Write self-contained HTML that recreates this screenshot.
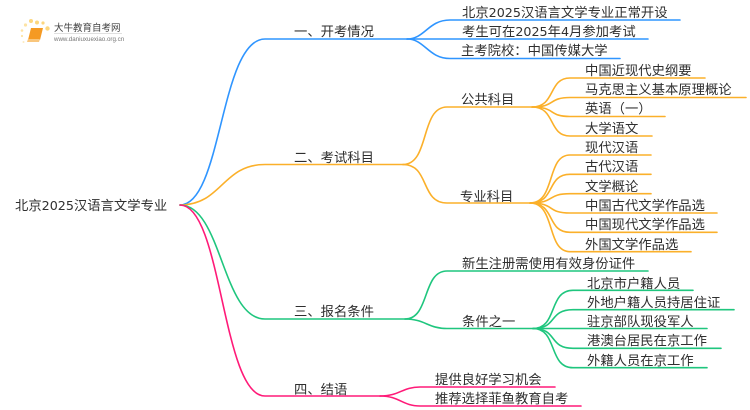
<!DOCTYPE html>
<html><head><meta charset="utf-8"><style>
html,body{margin:0;padding:0;background:#fff}
svg{display:block;filter:blur(.25px)}
text{font-family:"DejaVu Sans","Noto Sans CJK SC",sans-serif;font-size:13.33px;fill:#2f2f2f}
tspan{font-size:12.7px}
path{fill:none;stroke-width:1.6;stroke-linecap:round}
.b path{stroke:#2f95ff}.o path{stroke:#fbb02a}.g path{stroke:#1fc67e}.p path{stroke:#ff1a78}
</style></head><body>
<svg width="750" height="410" viewBox="0 0 750 410" xmlns="http://www.w3.org/2000/svg">
<!-- logo -->
<g>
<circle cx="31" cy="21" r="2" fill="#fcd77f"/><circle cx="37" cy="22.5" r="2" fill="#fcd77f"/><circle cx="25.5" cy="25" r="1.6" fill="#fde3a5"/><circle cx="47.5" cy="28.5" r="2.2" fill="#fcd77f"/><circle cx="43" cy="23" r="1.6" fill="#fcd77f"/><circle cx="22" cy="30.5" r="1.3" fill="#fde3a5"/><circle cx="22" cy="36" r="1.1" fill="#fde3a5"/><circle cx="23.5" cy="42" r="1" fill="#fdeac0"/>
<polygon points="31,28 43,28 40,40 28,40" fill="#f59a23"/><polygon points="28,39 40,39 39,42 27,42" fill="#f9c67c"/>
<text x="54" y="31" style="font-size:9.5px;fill:#444">大牛教育自考网</text>
<rect x="54" y="33" width="68" height="0.6" fill="#ccc"/>
<text x="54" y="41" style="font-size:6.2px;fill:#777;font-family:'Liberation Sans',sans-serif">www.daniuxuexiao.org.cn</text>
</g>
<g class="b">
<path d="M180,205 C222,205 220,39 265,39 L407,39"/>
<path d="M407,39 C425,39 428,20 450,20 L680,20"/>
<path d="M407,39 L648,39"/>
<path d="M407,39 C425,39 428,58.5 450,58.5 L620,58.5"/>
</g>
<g class="o">
<path d="M180,205 C222,205 222,164.5 265,164.5 L403,164.5"/>
<path d="M403,164.5 C430,164.5 420,107 447,107 L532,107"/>
<path d="M403,164.5 C430,164.5 420,203 447,203 L530,203"/>
<path d="M532,107 C556,107 548,78 570,78 L705,78"/>
<path d="M532,107 C556,107 548,97.5 570,97.5 L746,97.5"/>
<path d="M532,107 C556,107 548,116.5 570,116.5 L665,116.5"/>
<path d="M532,107 C556,107 548,136 570,136 L652,136"/>
<path d="M530,203 C556,203 546,155 570,155 L651,155"/>
<path d="M530,203 C556,203 546,174.3 570,174.3 L651,174.3"/>
<path d="M530,203 C556,203 546,193.7 570,193.7 L651,193.7"/>
<path d="M530,203 C556,203 546,213 570,213 L717,213"/>
<path d="M530,203 C556,203 546,232.3 570,232.3 L717,232.3"/>
<path d="M530,203 C556,203 546,251.7 570,251.7 L691,251.7"/>
</g>
<g class="g">
<path d="M180,205 C222,205 222,319 265,319 L405,319"/>
<path d="M405,319 C430,319 422,271 447,271 L648,271"/>
<path d="M405,319 C425,319 428,328.5 447,328.5 L533,328.5"/>
<path d="M533,328.5 C558,328.5 548,290.3 573,290.3 L693,290.3"/>
<path d="M533,328.5 C558,328.5 548,309.7 573,309.7 L734,309.7"/>
<path d="M533,328.5 L707,328.5"/>
<path d="M533,328.5 C558,328.5 548,348.3 573,348.3 L721,348.3"/>
<path d="M533,328.5 C558,328.5 548,367.7 573,367.7 L707,367.7"/>
</g>
<g class="p">
<path d="M180,205 C222,205 222,396 265,396 L380,396"/>
<path d="M380,396 C400,396 402,387 420,387 L555,387"/>
<path d="M380,396 C400,396 402,406 420,406 L581,406"/>
</g>
<text x="15" y="210">北京<tspan>2025</tspan>汉语言文学专业</text>
<text x="294" y="36">一、开考情况</text>
<text x="294" y="162">二、考试科目</text>
<text x="294" y="316">三、报名条件</text>
<text x="294" y="394">四、结语</text>
<text x="462" y="17">北京<tspan>2025</tspan>汉语言文学专业正常开设</text>
<text x="462" y="36">考生可在<tspan>2025</tspan>年<tspan>4</tspan>月参加考试</text>
<text x="461" y="55">主考院校：中国传媒大学</text>
<text x="461" y="104">公共科目</text>
<text x="460" y="201">专业科目</text>
<text x="585" y="75">中国近现代史纲要</text>
<text x="585" y="94">马克思主义基本原理概论</text>
<text x="585" y="113">英语（一）</text>
<text x="585" y="133">大学语文</text>
<text x="585" y="152">现代汉语</text>
<text x="585" y="171">古代汉语</text>
<text x="585" y="191">文学概论</text>
<text x="585" y="210">中国古代文学作品选</text>
<text x="585" y="229">中国现代文学作品选</text>
<text x="585" y="249">外国文学作品选</text>
<text x="462" y="268">新生注册需使用有效身份证件</text>
<text x="462" y="326">条件之一</text>
<text x="587" y="288">北京市户籍人员</text>
<text x="587" y="307">外地户籍人员持居住证</text>
<text x="587" y="326">驻京部队现役军人</text>
<text x="587" y="345">港澳台居民在京工作</text>
<text x="587" y="365">外籍人员在京工作</text>
<text x="435" y="384">提供良好学习机会</text>
<text x="435" y="403">推荐选择菲鱼教育自考</text>
</svg>
</body></html>
